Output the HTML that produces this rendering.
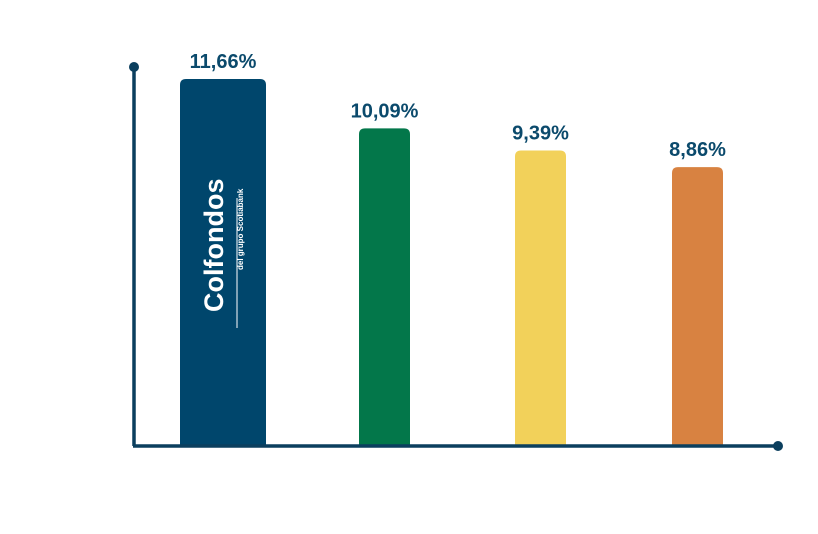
<!DOCTYPE html>
<html><head><meta charset="utf-8"><style>
html,body{margin:0;padding:0;background:#fff;}
svg{display:block;font-family:"Liberation Sans",sans-serif;}
</style></head><body>
<svg width="818" height="534" viewBox="0 0 818 534" id="chart"></svg>
<script>
const categories = ["Colfondos", "Fondo 2", "Fondo 3", "Fondo 4"];
const values = [11.66, 10.09, 9.39, 8.86];
const valueLabels = ["11,66%", "10,09%", "9,39%", "8,86%"];
const colors = ["#00466c", "#03774a", "#f2d15a", "#d88241"];

const svg = document.getElementById('chart');
const NS = 'http://www.w3.org/2000/svg';
const baseY = 446, topY = 79, maxV = 11.66;
const centers = [223, 384.5, 540.5, 697.5];
const widths = [86, 51, 51, 51];
function y(v){ return baseY - (v / maxV) * (baseY - topY); }
function mk(tag, attrs){ const e = document.createElementNS(NS, tag); for (const k in attrs) e.setAttribute(k, attrs[k]); svg.appendChild(e); return e; }

values.forEach((v, i) => {
  const w = widths[i], x = centers[i] - w/2, t = y(v), r = 6;
  const p = mk('path', {d:`M${x},${baseY} L${x},${t+r} Q${x},${t} ${x+r},${t} L${x+w-r},${t} Q${x+w},${t} ${x+w},${t+r} L${x+w},${baseY} Z`, fill:colors[i]});
  
  
  const tx = mk('text', {x:centers[i], y:t-11, 'text-anchor':'middle', 'font-size':'20', 'font-weight':'bold', fill:'#0b4a6c'});
  tx.textContent = valueLabels[i];
  
  
});

// logo in first bar
const logo = mk('text', {x:0, y:0, transform:'translate(223,312) rotate(-90)', 'font-size':'27', fill:'#fff', 'font-weight':'bold'});
logo.textContent = 'Colfondos';


const sub = mk('text', {x:0, y:0, transform:'translate(243,270) rotate(-90)', 'font-size':'8', fill:'#fff', 'font-weight':'bold'});
sub.textContent = 'del grupo Scotiabank';


const ln = mk('line', {x1:237, y1:198, x2:237, y2:328, stroke:'#fff', 'stroke-width':'1'});



// axes
const ya = mk('line', {x1:134, y1:67, x2:134, y2:446, stroke:'#0b3f5e', 'stroke-width':'3.5'});


const xa = mk('line', {x1:133, y1:446, x2:778, y2:446, stroke:'#0b3f5e', 'stroke-width':'3.5'});


const d1 = mk('circle', {cx:134, cy:67, r:5, fill:'#0b3f5e'});


const d2 = mk('circle', {cx:778, cy:446, r:5, fill:'#0b3f5e'});


</script>
</body></html>
